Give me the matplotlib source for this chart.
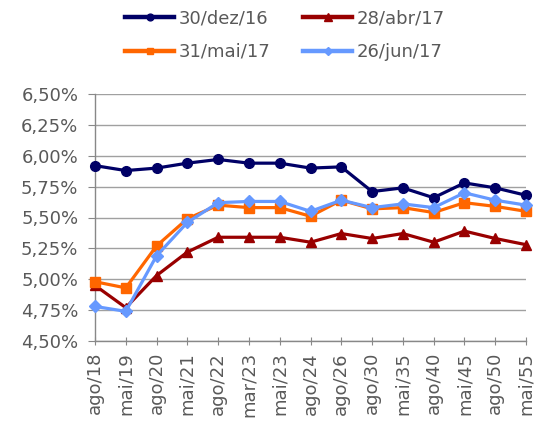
import matplotlib
matplotlib.use("Agg")
import matplotlib.pyplot as plt
from matplotlib.ticker import FuncFormatter
from matplotlib.lines import Line2D

categories = ["ago/18", "mai/19", "ago/20", "mai/21", "ago/22", "mar/23", "mai/23",
              "ago/24", "ago/26", "ago/30", "mai/35", "ago/40", "mai/45", "ago/50", "mai/55"]
dez16 = [5.92, 5.88, 5.90, 5.94, 5.97, 5.94, 5.94, 5.90, 5.91, 5.71, 5.74, 5.66, 5.78, 5.74, 5.68]
abr17 = [4.95, 4.77, 5.03, 5.22, 5.34, 5.34, 5.34, 5.30, 5.37, 5.33, 5.37, 5.30, 5.39, 5.33, 5.28]
mai17 = [4.98, 4.93, 5.27, 5.49, 5.60, 5.58, 5.58, 5.51, 5.64, 5.57, 5.58, 5.54, 5.62, 5.59, 5.55]
jun17 = [4.78, 4.74, 5.19, 5.46, 5.62, 5.63, 5.63, 5.55, 5.64, 5.58, 5.61, 5.58, 5.70, 5.64, 5.60]
yticks = [4.50, 4.75, 5.00, 5.25, 5.50, 5.75, 6.00, 6.25, 6.50]

plt.rcParams['font.family'] = ['DejaVu Sans']
FS = 13
TXT = '#595959'
fig = plt.figure(figsize=(5.35, 4.21), dpi=100)
ax = fig.add_axes([95/535, 1-341/421, (526-95)/535, (341-94)/421])

x = list(range(len(categories)))
series = [
    (dez16, "30/dez/16", "#000066", "o", 7),
    (abr17, "28/abr/17", "#990000", "^", 7.5),
    (mai17, "31/mai/17", "#FF6600", "s", 7),
    (jun17, "26/jun/17", "#6699FF", "D", 6),
]
proxies = {}
for vals, lab, col, mk, ms in series:
    ax.plot(x, vals, color=col, lw=2.3, marker=mk, markersize=ms, zorder=3, clip_on=False)
    proxies[lab] = Line2D([], [], color=col, lw=3.2, marker=mk, markersize=ms * 0.7)

ax.set_xlim(0, len(categories) - 1)
ax.set_ylim(4.50, 6.50)
ax.set_yticks(yticks)
ax.yaxis.set_major_formatter(FuncFormatter(lambda v, p: f"{v:.2f}%".replace(".", ",")))
ax.set_xticks(x)
ax.set_xticklabels(categories, rotation=90)
ax.grid(axis='y', color='#a0a0a0', lw=1)
ax.set_axisbelow(True)
for s in ['top', 'right']:
    ax.spines[s].set_visible(False)
for s in ['left', 'bottom']:
    ax.spines[s].set_color('#888888')
    ax.spines[s].set_linewidth(1)
ax.tick_params(axis='y', direction='out', length=5, color='#888888', labelsize=FS,
               labelcolor=TXT, pad=7)
ax.tick_params(axis='x', direction='inout', length=6, color='#888888', labelsize=FS,
               labelcolor=TXT, pad=5)

order = ["30/dez/16", "31/mai/17", "28/abr/17", "26/jun/17"]
fig.legend(handles=[proxies[k] for k in order], labels=order,
           ncol=2, loc='upper left', bbox_to_anchor=(109/535, 1.017), frameon=False,
           fontsize=FS, labelcolor=TXT, handlelength=2.7, handletextpad=0.25,
           columnspacing=1.83, labelspacing=0.88)

fig.savefig("out.png", dpi=100)
